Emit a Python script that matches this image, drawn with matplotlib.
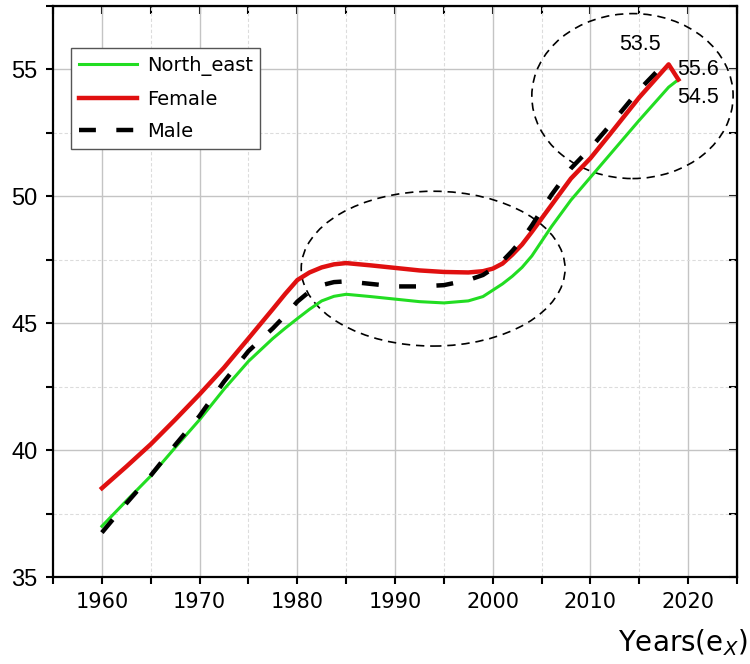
import matplotlib
matplotlib.use("Agg")
import matplotlib.pyplot as plt
from matplotlib.patches import Ellipse
from matplotlib.ticker import MultipleLocator

# ── Data ──
years = [1960, 1962.5, 1965, 1967.5, 1970, 1972.5, 1975, 1977.5,
         1978.75, 1980, 1981.25, 1982.5, 1983.75, 1985,
         1987.5, 1990, 1992.5, 1995, 1997.5,
         1999, 2000, 2001, 2002, 2003, 2004,
         2006, 2008, 2010, 2012, 2015, 2018, 2019]
north_east = [37.0, 38.0, 38.98, 40.1, 41.2, 42.4, 43.5, 44.4,
              44.8, 45.18, 45.55, 45.88, 46.06, 46.14,
              46.05, 45.95, 45.85, 45.8, 45.88,
              46.05, 46.3, 46.55, 46.85, 47.2, 47.65,
              48.8, 49.85, 50.75, 51.65, 53.0, 54.3, 54.6]
female = [38.5, 39.35, 40.23, 41.2, 42.2, 43.25, 44.4, 45.56,
          46.15, 46.7, 47.0, 47.2, 47.32, 47.37,
          47.28, 47.18, 47.08, 47.02, 47.0,
          47.05, 47.15, 47.35, 47.7, 48.1, 48.6,
          49.65, 50.7, 51.5, 52.45, 53.9, 55.2, 54.6]

years_male = [1960, 1962.5, 1965, 1967.5, 1970, 1972.5, 1975, 1977.5,
              1978.75, 1980, 1981.25, 1982.5, 1983.75, 1985,
              1987.5, 1990, 1992.5, 1995, 1997.5,
              1999, 2000, 2001, 2002, 2003, 2004,
              2006, 2008, 2010, 2012, 2015, 2018]
male = [36.75, 37.9, 39.0, 40.2, 41.35, 42.7, 43.9, 44.8,
        45.3, 45.85, 46.25, 46.5, 46.62, 46.65,
        46.55, 46.45, 46.45, 46.5, 46.7,
        46.9, 47.15, 47.45, 47.85, 48.3, 48.85,
        50.05, 51.1, 51.9, 52.8, 54.2, 55.4]

labels = ["53.5", "55.6", "54.5"]
label_pos = [(2015.1, 56.0), (2021.0, 55.0), (2021.0, 53.9)]

# (center x, center y, width, height) in data units
ellipses = [(1993.9, 47.15, 27.0, 6.1), (2014.3, 53.95, 20.6, 6.5)]

plt.rcParams["font.family"] = ["DejaVu Sans"]

fig = plt.figure(figsize=(7.5, 6.64), dpi=100)
ax = fig.add_axes([0.0707, 0.131, 0.912, 0.860])

ax.plot(years, north_east, color="#22dd22", lw=2.2, label="North_east", zorder=3)
ax.plot(years, female, color="#e01010", lw=3.2, label="Female", zorder=3)
ax.plot(years_male, male, color="black", lw=3.2, dashes=(3.8, 4.6),
        label="Male", zorder=4)

for cx, cy, w, h in ellipses:
    ax.add_patch(Ellipse((cx, cy), w, h, fill=False, ec="black", lw=1.2,
                         ls=(0, (5, 3.5)), zorder=2))

for txt, (tx, ty) in zip(labels, label_pos):
    ax.text(tx, ty, txt, ha="center", va="center", fontsize=15.5,
            family="Liberation Sans", zorder=5)

ax.set_xlim(1955, 2025)
ax.set_ylim(35, 57.5)
ax.xaxis.set_major_locator(MultipleLocator(10))
ax.xaxis.set_minor_locator(MultipleLocator(5))
ax.yaxis.set_major_locator(MultipleLocator(5))
ax.yaxis.set_minor_locator(MultipleLocator(2.5))

ax.grid(which="major", color="#c4c4c4", lw=1.0, ls="-", zorder=0)
ax.grid(which="minor", color="#dcdcdc", lw=0.8, ls=(0, (3, 2)), zorder=0)
ax.set_axisbelow(True)

for s in ax.spines.values():
    s.set_linewidth(1.6)

ax.tick_params(which="both", direction="out", length=5, width=1.5)
ax.tick_params(axis="x", which="both", pad=6, labelsize=15)
ax.tick_params(axis="y", which="both", pad=6)
for lbl in ax.get_yticklabels():
    lbl.set_family("Liberation Sans")
    lbl.set_fontsize(17)

# inward ticks on top and right, no labels
top = ax.secondary_xaxis("top")
top.xaxis.set_major_locator(MultipleLocator(10))
top.xaxis.set_minor_locator(MultipleLocator(5))
top.tick_params(which="both", direction="in", length=6, width=1.5, labeltop=False)
right = ax.secondary_yaxis("right")
right.yaxis.set_major_locator(MultipleLocator(5))
right.yaxis.set_minor_locator(MultipleLocator(2.5))
right.tick_params(which="both", direction="in", length=6, width=1.5, labelright=False)

leg = ax.legend(loc="upper left", bbox_to_anchor=(0.026, 0.926), borderaxespad=0,
                fontsize=14, handlelength=3.0, labelspacing=0.7, fancybox=False,
                framealpha=1, edgecolor="#555555", borderpad=0.4, handletextpad=0.5)
leg.get_frame().set_linewidth(1.0)

fig.text(0.997, 0.032, r"Years(e$_X$)", ha="right", va="center", fontsize=20)

fig.savefig("out.png", dpi=100)
